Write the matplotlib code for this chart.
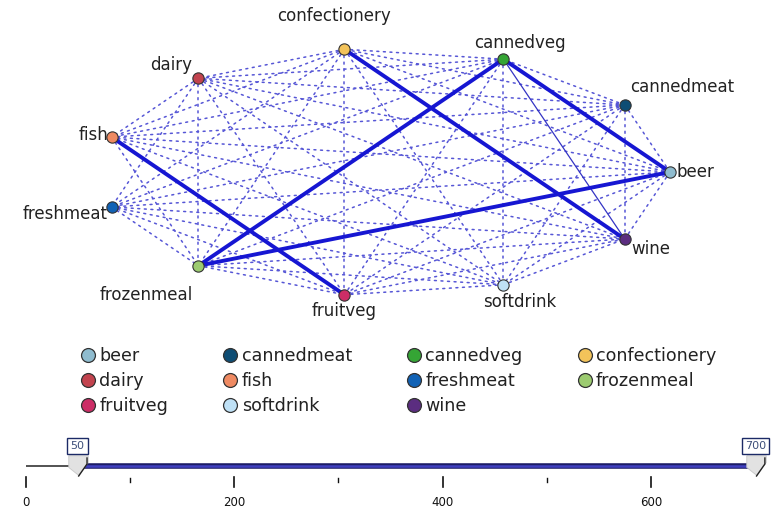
import numpy as np
import matplotlib
matplotlib.use("Agg")
import matplotlib.pyplot as plt
from matplotlib.lines import Line2D

# ---------------- data ----------------
categories = ['beer', 'cannedmeat', 'cannedveg', 'confectionery', 'dairy', 'fish',
              'freshmeat', 'frozenmeal', 'fruitveg', 'softdrink', 'wine']
node_colors = ['#8fbccf', '#0e4d74', '#35a535', '#f3c35a', '#c2434e', '#ef8a62',
               '#1162b5', '#9ccb70', '#cc2d66', '#bfe1f6', '#5b2d80']
strong_links = [('fish', 'fruitveg'), ('frozenmeal', 'cannedveg'), ('frozenmeal', 'beer'),
                ('confectionery', 'wine'), ('cannedveg', 'beer')]
medium_links = [('cannedveg', 'wine')]
absent_links = [('fish', 'freshmeat')]
slider_range = (0, 700)
slider_values = (50, 700)
slider_major = [0, 200, 400, 600]
slider_minor = [100, 300, 500]

# label placement (offset pixels, ha, va)
label_place = {
    'beer': (6, 0, 'left', 'center'),
    'cannedmeat': (5, 18, 'left', 'center'),
    'cannedveg': (17, 16, 'center', 'center'),
    'confectionery': (-10, 33, 'center', 'center'),
    'dairy': (-6, 13, 'right', 'center'),
    'fish': (-3, 2, 'right', 'center'),
    'freshmeat': (-4, -7, 'right', 'center'),
    'frozenmeal': (-5, -29, 'right', 'center'),
    'fruitveg': (0, -16, 'center', 'center'),
    'softdrink': (16, -17, 'center', 'center'),
    'wine': (7, -10, 'left', 'center'),
}

W, H = 772, 514
fig = plt.figure(figsize=(W / 100, H / 100), dpi=100)
fig.patch.set_facecolor('white')

# ---------------- web graph ----------------
cx, cy, rx, ry, top_px, bot_px = 385, 172, 285, 124, 0, 330
ax = fig.add_axes([0, 1 - bot_px / H, 1, (bot_px - top_px) / H])
ax.set_xlim(-cx / rx, (W - cx) / rx)
ax.set_ylim((cy - bot_px) / ry, (cy - top_px) / ry)
ax.axis('off')

n = len(categories)
ang = 2 * np.pi * np.arange(n) / n
pos = {c: (np.cos(a), np.sin(a)) for c, a in zip(categories, ang)}

def key(a, b):
    return tuple(sorted((a, b)))

strong = {key(*l) for l in strong_links}
medium = {key(*l) for l in medium_links}
absent = {key(*l) for l in absent_links}

for i in range(n):
    for j in range(i + 1, n):
        a, b = categories[i], categories[j]
        k = key(a, b)
        (x1, y1), (x2, y2) = pos[a], pos[b]
        if k in absent:
            continue
        if k in strong:
            ax.plot([x1, x2], [y1, y2], color='#1616d2', lw=2.8, zorder=3,
                    solid_capstyle='round')
        elif k in medium:
            ax.plot([x1, x2], [y1, y2], color='#3434c4', lw=0.9, zorder=2)
        else:
            ax.plot([x1, x2], [y1, y2], color='#5656d6', lw=1.1, zorder=1,
                    linestyle=(0, (1.3, 3.0)), dash_capstyle='round')

for c, col in zip(categories, node_colors):
    x, y = pos[c]
    ax.scatter([x], [y], s=66, color=col, edgecolor='#333333', linewidth=0.8, zorder=5)
    dx, dy, ha, va = label_place[c]
    ax.annotate(c, (x, y), xytext=(dx, dy), textcoords='offset pixels',
                ha=ha, va=va, fontsize=12, color='#222222', zorder=6)

# ---------------- legend (row-wise order) ----------------
ncol = 4
nrow = int(np.ceil(n / ncol))
order = [r * ncol + c for c in range(ncol) for r in range(nrow) if r * ncol + c < n]
handles = [Line2D([0], [0], marker='o', linestyle='none', markersize=10,
                  markerfacecolor=node_colors[i], markeredgecolor='#333333',
                  markeredgewidth=0.9) for i in order]
labels = [categories[i] for i in order]
fig.legend(handles, labels, ncol=ncol, loc='upper left',
           bbox_to_anchor=(80 / W, 1 - 347 / H), frameon=False,
           fontsize=12.6, handletextpad=0.2, columnspacing=3.1,
           labelspacing=0.4, handlelength=0.9, borderaxespad=0, borderpad=0,
           labelcolor='#222222')

# ---------------- slider ----------------
x0_px, x1_px = 25.5, 755.5
sy_top, sy_bot = 420, 514
ax2 = fig.add_axes([x0_px / W, 1 - sy_bot / H, (x1_px - x0_px) / W, (sy_bot - sy_top) / H])
ax2.set_xlim(*slider_range)
ax2.set_ylim(sy_bot, sy_top)  # pixel-like y units, inverted
for s in ax2.spines.values():
    s.set_visible(False)
ax2.set_yticks([])
ax2.set_xticks([])
ax2.patch.set_alpha(0)

track_y = 466
lo, hi = slider_values
ax2.plot([slider_range[0], lo], [track_y, track_y], color='#444444', lw=1.3,
         solid_capstyle='butt', clip_on=False)
ax2.plot([lo, hi], [track_y, track_y], color='#1c1c66', lw=4.0,
         solid_capstyle='butt', clip_on=False, zorder=2)
ax2.plot([lo, hi], [track_y, track_y], color='#4040c0', lw=1.8,
         solid_capstyle='butt', clip_on=False, zorder=3)

for v in slider_major:
    ax2.plot([v, v], [477, 487], color='#111111', lw=1.2, clip_on=False)
    ax2.text(v, 502, str(v), ha='center', va='center', fontsize=8.5, color='#111111')
for v in slider_minor:
    ax2.plot([v, v], [478, 482], color='#111111', lw=1.0, clip_on=False)

handle_marker = [(-1, 1), (1, 1), (1, 0.3), (0, -1), (-1, -0.2), (-1, 1)]
for v in slider_values:
    ax2.plot([v], [track_y - 1], marker=handle_marker, markersize=14,
             markerfacecolor='#e2e2e2', markeredgecolor='#c8c8c8', markeredgewidth=0.6,
             linestyle='none', clip_on=False, zorder=4)
    ax2.plot([v + 9, v + 9, v + 1], [458, 464, track_y + 10], color='#222222', lw=1.0,
             clip_on=False, zorder=5)
    ax2.text(v, 446, str(v), ha='center', va='center', fontsize=8, color='#3d4f7a',
             bbox=dict(boxstyle='square,pad=0.3', facecolor='white',
                       edgecolor='#1c2a66', linewidth=1.0), clip_on=False, zorder=6)

fig.savefig('out.png', dpi=100, facecolor='white')
